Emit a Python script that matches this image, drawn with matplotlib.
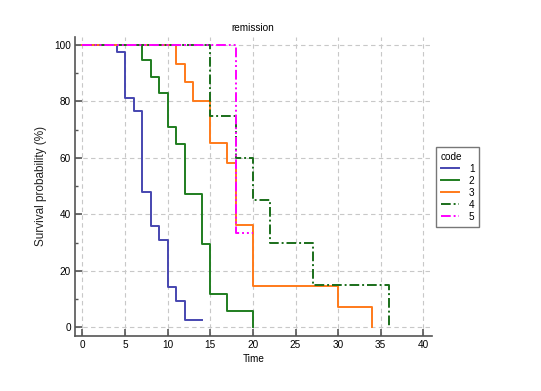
import matplotlib
matplotlib.use("Agg")
import matplotlib.pyplot as plt
import numpy as np
from matplotlib.ticker import MultipleLocator
from matplotlib import font_manager

_names = {f.name for f in font_manager.fontManager.ttflist}
if 'Liberation Sans Narrow' in _names:
    HFONT = ['Liberation Sans Narrow', 'DejaVu Sans']
    HSIZE = 8.3
else:
    HFONT = ['Liberation Sans', 'DejaVu Sans']
    HSIZE = 7.2
plt.rcParams['font.family'] = HFONT

# Kaplan-Meier step data per code (time, survival %)
t1 = [0, 4, 5, 6, 7, 8, 9, 10, 11, 12, 14]
s1 = [100, 97.6, 81.3, 76.7, 47.8, 35.8, 31.0, 14.2, 9.4, 2.4, 2.4]

t2 = [0, 7, 8, 9, 10, 11, 12, 14, 15, 17, 20]
s2 = [100, 94.7, 88.8, 83.0, 71.0, 65.0, 47.2, 29.5, 11.7, 5.8, 0]

t3 = [0, 11, 12, 13, 15, 17, 18, 20, 30, 34]
s3 = [100, 93.2, 86.8, 80.0, 65.4, 58.1, 36.3, 14.5, 7.3, 0]

t4 = [0, 15, 18, 20, 22, 27, 36]
s4 = [100, 75.0, 60.0, 45.0, 30.0, 15.0, 0]

t5 = [0, 18, 20]
s5 = [100, 33.3, 33.3]

codes = ["1", "2", "3", "4", "5"]
times = [t1, t2, t3, t4, t5]
survs = [s1, s2, s3, s4, s5]
colors = ["#4646b0", "#1f7d1f", "#ff7a1a", "#1a6e1a", "#ff00ff"]
styles = ["-", "-", "-", (0, (5, 1.5, 1, 1.5)), (0, (5, 1.5, 1, 1.5, 1, 1.5))]

fig = plt.figure(figsize=(5.41, 3.91), dpi=100)
ax = fig.add_axes([0.1386, 0.1414, 0.659, 0.765])

for t, s, c, ls, lab in zip(times, survs, colors, styles, codes):
    ax.step(t, s, where="post", color=c, linestyle=ls, lw=1.4, label=lab)

ax.set_xlim(-0.88, 40.96)
ax.set_ylim(-3, 103)
ax.set_xticks(np.arange(0, 41, 5))
ax.set_yticks(np.arange(0, 101, 20))
ax.yaxis.set_minor_locator(MultipleLocator(10))
ax.grid(True, which="major", linestyle=(0, (4, 3)), color="#c8c8c8", lw=0.8)
ax.set_axisbelow(True)
for sp in ["top", "right"]:
    ax.spines[sp].set_visible(False)
for sp in ["left", "bottom"]:
    ax.spines[sp].set_color("#555555")
    ax.spines[sp].set_linewidth(1.2)
ax.tick_params(which="major", direction="in", length=5.3, width=1.2, color="#555555",
               labelsize=HSIZE, pad=3.0)
ax.tick_params(which="minor", direction="in", length=2.2, width=1.0, color="#555555")
ax.set_title("remission", fontsize=HSIZE, pad=4)
ax.set_xlabel("Time", fontsize=HSIZE, labelpad=3)
ax.set_ylabel("Survival probability (%)", fontsize=8.5, labelpad=5,
              family=['Liberation Sans', 'DejaVu Sans'], color="#222222")

leg = ax.legend(title="code", loc="upper left", bbox_to_anchor=(1.012, 0.631),
                fontsize=HSIZE, title_fontsize=HSIZE, frameon=True, fancybox=False,
                edgecolor="#555555", handlelength=1.8, handletextpad=1.0,
                borderpad=0.5, labelspacing=0.2, borderaxespad=0.0)
leg._legend_box.align = "left"
leg.get_frame().set_linewidth(1.0)

fig.savefig("out.png", dpi=100)
